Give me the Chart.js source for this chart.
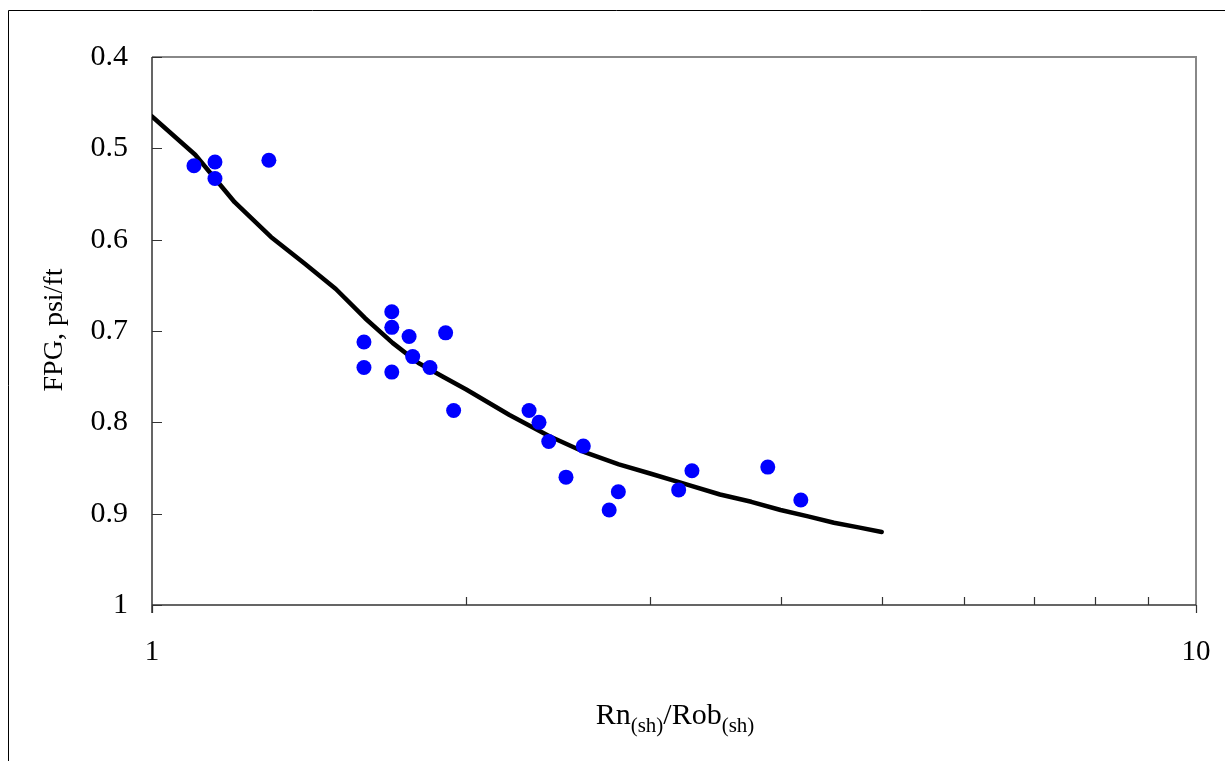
<!DOCTYPE html>
<html>
<head>
<meta charset="utf-8">
<script src="https://cdn.jsdelivr.net/npm/chart.js@4/dist/chart.umd.min.js"></script>
<style>
  html, body { margin: 0; padding: 0; background: #fff; }
  #wrap { width: 1225px; height: 761px; }
</style>
</head>
<body>
<div id="wrap"><canvas id="fpg-chart" width="1225" height="761"></canvas></div>
<script>
// measured points
const ratioData = [1.097, 1.149, 1.149, 1.294, 1.596, 1.596, 1.697, 1.697, 1.697, 1.763, 1.777, 1.846,
  1.911, 1.945, 2.297, 2.348, 2.399, 2.492, 2.589, 2.741, 2.797, 3.195, 3.290, 3.889, 4.183];
const fpgData = [0.519, 0.515, 0.533, 0.513, 0.712, 0.740, 0.679, 0.696, 0.745, 0.706, 0.728, 0.740,
  0.702, 0.787, 0.787, 0.800, 0.821, 0.860, 0.826, 0.896, 0.876, 0.874, 0.853, 0.849, 0.885];

// trend curve
const curveRatio = [1.0, 1.1, 1.2, 1.3, 1.4, 1.5, 1.6, 1.7, 1.8, 1.9, 2.0, 2.2, 2.4, 2.6, 2.8, 3.0,
  3.25, 3.5, 3.75, 4.0, 4.25, 4.5, 4.75, 5.0];
const curveFpg = [0.465, 0.507, 0.559, 0.597, 0.626, 0.654, 0.686, 0.713, 0.735, 0.750, 0.764, 0.792,
  0.815, 0.833, 0.846, 0.856, 0.868, 0.879, 0.887, 0.896, 0.903, 0.910, 0.915, 0.920];

// axis ticks
const xTicks = [1, 2, 3, 4, 5, 6, 7, 8, 9, 10];
const xLabels = [1, 10];
const yTicks = [0.4, 0.5, 0.6, 0.7, 0.8, 0.9, 1];

const serif = '"Liberation Serif", "Times New Roman", serif';

const framePlugin = {
  id: 'frame',
  beforeDatasetsDraw(chart) {
    const ctx = chart.ctx;
    const a = chart.chartArea;
    const xs = chart.scales.x, ys = chart.scales.y;
    ctx.save();
    // outer border
    ctx.strokeStyle = '#000';
    ctx.lineWidth = 1;
    ctx.beginPath();
    ctx.moveTo(8.5, 761);
    ctx.lineTo(8.5, 10.5);
    ctx.lineTo(1225, 10.5);
    ctx.stroke();
    // plot frame top/right
    ctx.strokeStyle = '#888';
    ctx.lineWidth = 2;
    ctx.beginPath();
    ctx.moveTo(a.left, a.top);
    ctx.lineTo(a.right, a.top);
    ctx.lineTo(a.right, a.bottom);
    ctx.stroke();
    // left / bottom axes
    ctx.strokeStyle = '#333';
    ctx.lineWidth = 1.5;
    ctx.beginPath();
    ctx.moveTo(a.left, a.top);
    ctx.lineTo(a.left, a.bottom + 8);
    ctx.moveTo(a.left, a.bottom);
    ctx.lineTo(a.right, a.bottom);
    ctx.stroke();
    // y ticks (inside)
    ctx.lineWidth = 1.2;
    ctx.beginPath();
    yTicks.forEach(v => {
      const y = Math.round(ys.getPixelForValue(v)) + 0.5;
      ctx.moveTo(a.left, y);
      ctx.lineTo(a.left + 10, y);
    });
    // x ticks (inside, minor) and outside at decades
    xTicks.forEach(v => {
      const x = Math.round(xs.getPixelForValue(v)) + 0.5;
      if (xLabels.includes(v)) {
        ctx.moveTo(x, a.bottom);
        ctx.lineTo(x, a.bottom + 8);
      } else {
        ctx.moveTo(x, a.bottom);
        ctx.lineTo(x, a.bottom - 8);
      }
    });
    ctx.stroke();

    // y title
    ctx.fillStyle = '#000';
    ctx.font = '28px ' + serif;
    ctx.textAlign = 'center';
    ctx.textBaseline = 'middle';
    ctx.translate(55, 330);
    ctx.rotate(-Math.PI / 2);
    ctx.fillText('FPG, psi/ft', 0, 0);
    ctx.restore();

    // x title with subscripts
    ctx.save();
    ctx.fillStyle = '#000';
    ctx.textBaseline = 'alphabetic';
    ctx.textAlign = 'left';
    const parts = [['Rn', 30, 0], ['(sh)', 21, 8], ['/Rob', 30, 0], ['(sh)', 21, 8]];
    let total = 0;
    parts.forEach(p => { ctx.font = p[1] + 'px ' + serif; total += ctx.measureText(p[0]).width; });
    let x = 675 - total / 2;
    parts.forEach(p => {
      ctx.font = p[1] + 'px ' + serif;
      ctx.fillText(p[0], x, 724 + p[2]);
      x += ctx.measureText(p[0]).width;
    });
    ctx.restore();
  }
};

new Chart(document.getElementById('fpg-chart'), {
  type: 'scatter',
  data: {
    datasets: [
      {
        label: 'Data',
        data: ratioData.map((r, i) => ({ x: r, y: fpgData[i] })),
        backgroundColor: '#0000FF',
        borderWidth: 0,
        pointRadius: 7.5,
        order: 0
      },
      {
        label: 'Trend',
        data: curveRatio.map((r, i) => ({ x: r, y: curveFpg[i] })),
        showLine: true,
        borderColor: '#000',
        borderWidth: 4.5,
        pointRadius: 0,
        tension: 0,
        borderJoinStyle: 'round',
        borderCapStyle: 'round',
        order: 1
      }
    ]
  },
  options: {
    responsive: false,
    animation: false,
    layout: { padding: { top: 57, right: 29, left: 0, bottom: 0 } },
    plugins: { legend: { display: false }, tooltip: { enabled: false } },
    scales: {
      x: {
        type: 'logarithmic',
        min: 1,
        max: 10,
        grid: { display: false, drawTicks: false },
        border: { display: false },
        afterBuildTicks: s => { s.ticks = xTicks.map(v => ({ value: v })); },
        afterFit: s => { s.height = 156; s.paddingLeft = 0; s.paddingRight = 0; },
        ticks: {
          autoSkip: false,
          maxRotation: 0,
          padding: 30,
          color: '#000',
          font: { family: serif, size: 29 },
          callback: v => xLabels.includes(v) ? String(v) : ''
        }
      },
      y: {
        type: 'linear',
        reverse: true,
        min: 0.4,
        max: 1,
        grid: { display: false, drawTicks: false },
        border: { display: false },
        afterBuildTicks: s => { s.ticks = yTicks.map(v => ({ value: v })); },
        afterFit: s => { s.width = 152; s.paddingTop = 0; s.paddingBottom = 0; },
        ticks: {
          padding: 24,
          color: '#000',
          font: { family: serif, size: 30 },
          callback: v => v === 1 ? '1' : v.toFixed(1)
        }
      }
    }
  },
  plugins: [framePlugin]
});
</script>
</body>
</html>
